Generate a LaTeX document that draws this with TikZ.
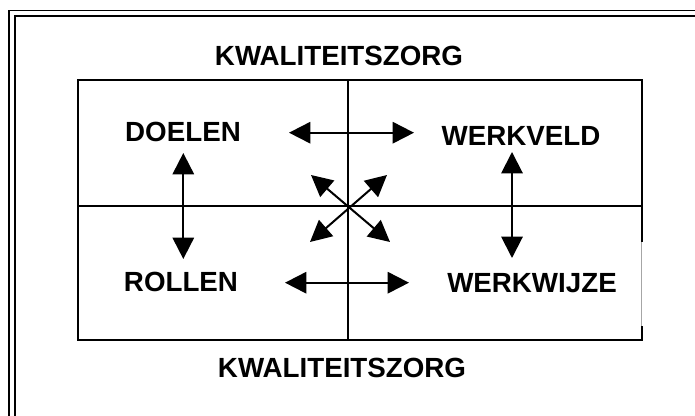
\documentclass[tikz,border=0pt]{standalone}
\usepackage{fontspec}
\setmainfont{Liberation Sans}
\usetikzlibrary{arrows.meta}
\begin{document}
\begin{tikzpicture}[x=0.75pt,y=-0.75pt,
  lbl/.style={font=\bfseries\fontsize{20.8}{25}\selectfont, inner sep=0pt},
  grid/.style={line width=1.5pt},
  twoway/.style={line width=1.5pt, {Triangle[length=16pt,width=16pt]}-{Triangle[length=16pt,width=16pt]}}]
\useasboundingbox (0,0) rectangle (695,416);
\clip (0,0) rectangle (695,416);
% outer double frame (cut at right and bottom)
\draw[line width=1.3pt] (9,430) -- (9,10.5) -- (710,10.5);
\draw[line width=2.2pt] (15,430) -- (15,16) -- (710,16);
% inner rectangle
\draw[grid] (641.5,242) -- (641.5,80) -- (77.5,80) -- (77.5,339.5) -- (641.5,339.5) -- (641.5,326);
\draw[line width=0.5pt, gray!70] (641.5,242) -- (641.5,326);
\draw[grid] (348,80) -- (348,339.5);
\draw[grid] (77.5,206) -- (641.5,206);
% labels
\node[lbl] (kz1) at (339,56) {KWALITEITSZORG};
\node[lbl] (kz2) at (342,368) {KWALITEITSZORG};
\node[lbl] (doel) at (183,132) {DOELEN};
\node[lbl] (werkv) at (521,136) {WERKVELD};
\node[lbl] (rol) at (181,282) {ROLLEN};
\node[lbl] (werkw) at (532,283) {WERKWIJZE};
% arrow end points
\coordinate (h1l) at (289,132.7);
\coordinate (h1r) at (414,132.7);
\coordinate (h2l) at (285,282.7);
\coordinate (h2r) at (409,282.7);
\coordinate (v1t) at (183.3,153);
\coordinate (v1b) at (183.3,259);
\coordinate (v2t) at (512,152);
\coordinate (v2b) at (512,258);
\coordinate (dtl) at (311,175);
\coordinate (dbr) at (390,242);
\coordinate (dtr) at (387,175);
\coordinate (dbl) at (310,242);
% arrows
\draw[twoway] (h1l) -- (h1r);
\draw[twoway] (h2l) -- (h2r);
\draw[twoway] (v1t) -- (v1b);
\draw[twoway] (v2t) -- (v2b);
\draw[twoway] (dtl) -- (dbr);
\draw[twoway] (dtr) -- (dbl);
\end{tikzpicture}
\end{document}
